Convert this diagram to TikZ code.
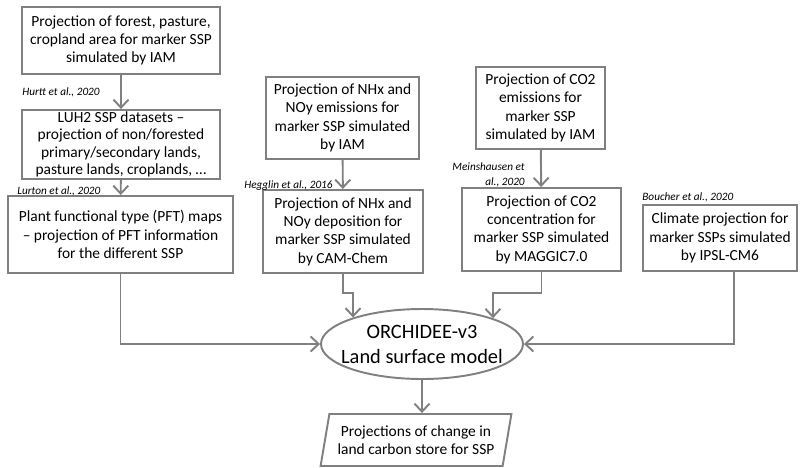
\documentclass[tikz,border=0pt]{standalone}
\usepackage{fontspec}
\setmainfont{Carlito}
\usepackage{xcolor}
\usepackage{tikz}
\usetikzlibrary{positioning, arrows.meta, shapes.geometric}
\definecolor{FrameGray}{RGB}{128,128,128}

\begin{document}
\begin{tikzpicture}[x=0.02cm, y=-0.02cm, >={Straight Barb[length=1.6mm,width=3mm]},
  box/.style={draw=FrameGray, line width=1.1pt, fill=white, align=center, inner sep=1pt, font=\fontsize{8.8}{10.4}\selectfont},
  cite/.style={inner sep=0pt, font=\fontsize{6.4}{8.5}\selectfont\itshape},
  flow/.style={->, draw=FrameGray, line width=1.1pt}]
  \useasboundingbox (0,0) rectangle (800,467);
  % land use chain
  \node[box, minimum width=3.96cm, minimum height=1.34cm] (forest) at (121,40.5) {Projection of forest, pasture,\\cropland area for marker SSP\\simulated by IAM};
  \node[box, inner ysep=0pt, minimum width=3.96cm, minimum height=1.38cm, font=\fontsize{8.8}{10}\selectfont] (luh) at (121,144.5) {LUH2 SSP datasets –\\projection of non/forested\\primary/secondary lands,\\pasture lands, croplands, …};
  \node[box, minimum width=4.5cm, minimum height=1.54cm] (pft) at (120.5,234.5) {Plant functional type (PFT) maps\\– projection of PFT information\\for the different SSP};
  % nitrogen chain
  \node[box, minimum width=3.06cm, minimum height=1.64cm] (nhxEmis) at (342.5,118) {Projection of NHx and\\NOy emissions for\\marker SSP simulated\\by IAM};
  \node[box, minimum width=3.2cm, minimum height=1.66cm] (nhxDep) at (343,231.5) {Projection of NHx and\\NOy deposition for\\marker SSP simulated\\by CAM-Chem};
  % CO2 chain
  \node[box, minimum width=2.58cm, minimum height=1.64cm] (coEmis) at (540.5,108) {Projection of CO2\\emissions for\\marker SSP\\simulated by IAM};
  \node[box, minimum width=3.18cm, minimum height=1.66cm] (coConc) at (541.5,229.5) {Projection of CO2\\concentration for\\marker SSP simulated\\by MAGGIC7.0};
  % climate
  \node[box, minimum width=3.08cm, minimum height=1.32cm] (climate) at (720,238) {Climate projection for\\marker SSPs simulated\\by IPSL-CM6};
  % model and output
  \node[ellipse, draw=FrameGray, line width=1.1pt, align=center, inner sep=0pt, inner xsep=-0.25cm, minimum width=4.04cm, minimum height=1.4cm, font=\fontsize{11.6}{14.2}\selectfont] (orchidee) at (422,344) {ORCHIDEE-v3\\Land surface model};
  \node[trapezium, trapezium left angle=76, trapezium right angle=104, trapezium stretches=true, draw=FrameGray, line width=1.1pt, align=center, inner sep=1pt, minimum width=3.84cm, minimum height=1.04cm, font=\fontsize{8.8}{10.4}\selectfont] (output) at (416,440) {Projections of change in\\land carbon store for SSP};
  % references
  \node[cite, anchor=west] (hurttRef) at (22,92) {Hurtt et al., 2020};
  \node[cite, anchor=west] (lurtonRef) at (17,191) {Lurton et al., 2020};
  \node[cite, anchor=east] (hegglinRef) at (333,186) {Hegglin et al., 2016};
  \node[cite, anchor=east, align=right] (meinsRef) at (525,175) {Meinshausen et\\al., 2020};
  \node[cite, anchor=west] (boucherRef) at (642,197) {Boucher et al., 2020};
  % connectors
  \draw[flow] (forest) -- (luh);
  \draw[flow] (luh) -- (pft);
  \draw[flow] (nhxEmis) -- (nhxDep);
  \draw[flow] (coEmis) -- (coConc);
  \draw[flow] (pft.south) |- (orchidee.west);
  \draw[flow] (nhxDep.south) -- ++(0,19) -| (orchidee.159);
  \draw[flow] (coConc.south) -- ++(0,21) -| (orchidee.20);
  \draw[flow] ([xshift=0.28cm]climate.south) |- (orchidee.east);
  \draw[flow] (orchidee.south) -- (orchidee.south |- output.north);
\end{tikzpicture}
\end{document}
